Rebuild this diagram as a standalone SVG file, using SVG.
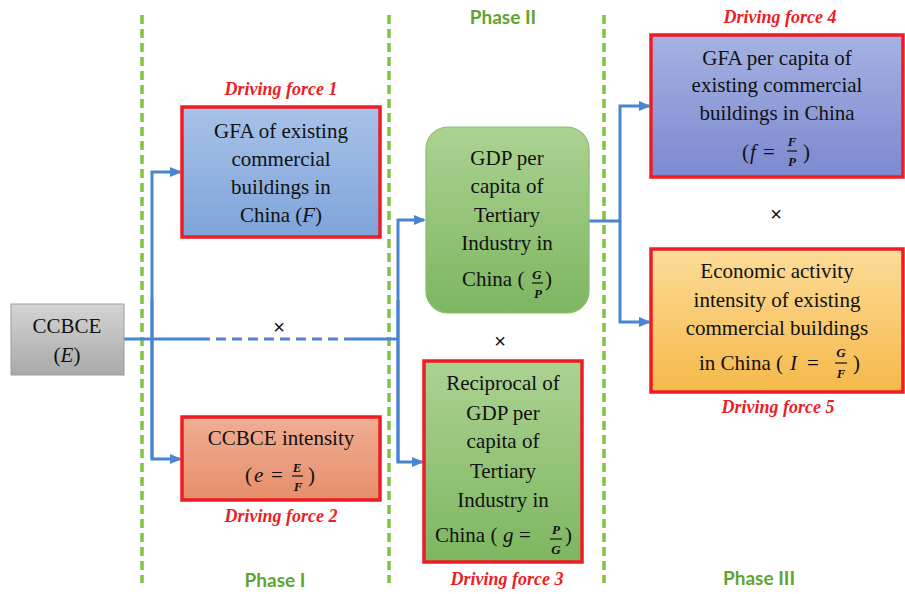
<svg xmlns="http://www.w3.org/2000/svg" width="905" height="594" viewBox="0 0 905 594">
<defs>
<marker id="ah" markerWidth="12" markerHeight="10" refX="10" refY="5" orient="auto" markerUnits="userSpaceOnUse">
<path d="M0,0 L12,5 L0,10 z" fill="#4a86d0"/>
</marker>
<linearGradient id="gGray" x1="0" y1="0" x2="0" y2="1"><stop offset="0" stop-color="#d4d4d4"/><stop offset="1" stop-color="#a9a9a9"/></linearGradient>
<linearGradient id="gBlue" x1="0" y1="0" x2="0" y2="1"><stop offset="0" stop-color="#a8c2e8"/><stop offset="1" stop-color="#7ea4da"/></linearGradient>
<linearGradient id="gSal" x1="0" y1="0" x2="0" y2="1"><stop offset="0" stop-color="#f0ae94"/><stop offset="1" stop-color="#e68e6a"/></linearGradient>
<linearGradient id="gGreen" x1="0" y1="0" x2="0" y2="1"><stop offset="0" stop-color="#acd292"/><stop offset="1" stop-color="#7db660"/></linearGradient>
<linearGradient id="gPur" x1="0" y1="0" x2="0" y2="1"><stop offset="0" stop-color="#a5b2e2"/><stop offset="1" stop-color="#7b89d0"/></linearGradient>
<linearGradient id="gOr" x1="0" y1="0" x2="0" y2="1"><stop offset="0" stop-color="#fcdc98"/><stop offset="1" stop-color="#f5b94a"/></linearGradient>
</defs>
<rect width="905" height="594" fill="#fff"/>

<g id="separators" stroke="#7dc540" stroke-width="3.5" stroke-dasharray="9 5" fill="none">
<line x1="142" y1="15" x2="142" y2="583"/>
<line x1="389" y1="15" x2="389" y2="583"/>
<line x1="604" y1="15" x2="604" y2="583"/>
</g>

<g id="phases" font-weight="bold" fill="#5fa433" text-anchor="middle">
<text font-family="Lato" font-size="19" x="503" y="24">Phase II</text>
<text font-family="Lato" font-size="19" x="275" y="587">Phase I</text>
<text font-family="Lato" font-size="19" x="759" y="585">Phase III</text>
</g>

<g id="connectors">
<g stroke="#4a86d0" stroke-width="3" fill="none">
<line x1="124" y1="339" x2="200" y2="339"/>
<line x1="200" y1="339" x2="350" y2="339" stroke-dasharray="10 6"/>
<line x1="350" y1="339" x2="398" y2="339"/>
<path d="M152,459 L152,172 L180,172" marker-end="url(#ah)"/>
<path d="M152,300 L152,459 L180,459" marker-end="url(#ah)"/>
<path d="M398,462 L398,220 L424,220" marker-end="url(#ah)"/>
<path d="M398,300 L398,462 L422,462" marker-end="url(#ah)"/>
<path d="M589,221 L620,221 L620,106 L649,106" marker-end="url(#ah)"/>
<path d="M620,221 L620,322 L649,322" marker-end="url(#ah)"/>
</g>
<g fill="#111" text-anchor="middle">
<text font-family="Liberation Sans" font-size="20" x="279" y="334">&#215;</text>
<text font-family="Liberation Sans" font-size="20" x="500" y="348">&#215;</text>
<text font-family="Liberation Sans" font-size="20" x="776" y="221">&#215;</text>
</g>
</g>

<g id="ccbce" fill="#111" text-anchor="middle">
<rect x="11" y="304" width="113" height="71" fill="url(#gGray)" stroke="#9c9c9c" stroke-width="1"/>
<text font-family="Times New Roman" font-size="21" x="67" y="333">CCBCE</text>
<text font-family="Times New Roman" font-size="21" x="67" y="362">(<tspan font-style="italic">E</tspan>)</text>
</g>

<g id="df1" fill="#111" text-anchor="middle">
<text font-family="Times New Roman" font-size="18" x="281" y="95" font-style="italic" font-weight="bold" fill="#ee1c24">Driving force 1</text>
<rect x="182" y="107" width="198" height="130" fill="url(#gBlue)" stroke="#ee1c24" stroke-width="3.5"/>
<text font-family="Times New Roman" font-size="21" x="281" y="138">GFA of existing</text>
<text font-family="Times New Roman" font-size="21" x="281" y="166">commercial</text>
<text font-family="Times New Roman" font-size="21" x="281" y="194">buildings  in</text>
<text font-family="Times New Roman" font-size="21" x="281" y="222">China (<tspan font-style="italic">F</tspan>)</text>
</g>

<g id="df2" fill="#111">
<rect x="182" y="417" width="198" height="83" fill="url(#gSal)" stroke="#ee1c24" stroke-width="3.5"/>
<text font-family="Times New Roman" font-size="21" x="281" y="445" text-anchor="middle">CCBCE intensity</text>
<text font-family="Times New Roman" font-size="21" x="245" y="482">(</text>
<text font-family="Times New Roman" font-size="21" x="254" y="482" font-style="italic">e</text>
<text font-family="Times New Roman" font-size="21" x="271" y="482">=</text>
<g font-style="italic" font-weight="bold" text-anchor="middle">
<text font-family="Times New Roman" font-size="13" x="297" y="472">E</text>
<text font-family="Times New Roman" font-size="13" x="298" y="491">F</text>
</g>
<line x1="292" y1="476" x2="303" y2="476" stroke="#111" stroke-width="1.2"/>
<text font-family="Times New Roman" font-size="21" x="308" y="482">)</text>
<text font-family="Times New Roman" font-size="18" x="281" y="522" font-style="italic" font-weight="bold" fill="#ee1c24" text-anchor="middle">Driving force 2</text>
</g>

<g id="gdp" fill="#111">
<rect x="426" y="127" width="163" height="186" rx="22" ry="22" fill="url(#gGreen)" stroke="#86bd6a" stroke-width="1.2"/>
<g text-anchor="middle">
<text font-family="Times New Roman" font-size="21" x="507" y="165">GDP per</text>
<text font-family="Times New Roman" font-size="21" x="507" y="193">capita  of</text>
<text font-family="Times New Roman" font-size="21" x="507" y="222">Tertiary</text>
<text font-family="Times New Roman" font-size="21" x="507" y="250">Industry  in</text>
</g>
<text font-family="Times New Roman" font-size="21" x="462" y="286">China (</text>
<g font-style="italic" font-weight="bold" text-anchor="middle">
<text font-family="Times New Roman" font-size="13" x="537" y="279">G</text>
<text font-family="Times New Roman" font-size="13" x="538" y="298">P</text>
</g>
<line x1="532" y1="283" x2="543" y2="283" stroke="#111" stroke-width="1.2"/>
<text font-family="Times New Roman" font-size="21" x="545" y="286">)</text>
</g>

<g id="df3" fill="#111">
<rect x="424" y="361" width="158" height="201" fill="url(#gGreen)" stroke="#ee1c24" stroke-width="3.5"/>
<g text-anchor="middle">
<text font-family="Times New Roman" font-size="21" x="503" y="390">Reciprocal  of</text>
<text font-family="Times New Roman" font-size="21" x="503" y="420">GDP per</text>
<text font-family="Times New Roman" font-size="21" x="503" y="448">capita  of</text>
<text font-family="Times New Roman" font-size="21" x="503" y="478">Tertiary</text>
<text font-family="Times New Roman" font-size="21" x="503" y="507">Industry  in</text>
</g>
<text font-family="Times New Roman" font-size="21" x="435" y="542">China (</text>
<text font-family="Times New Roman" font-size="21" x="503" y="542" font-style="italic">g</text>
<text font-family="Times New Roman" font-size="21" x="519" y="542">=</text>
<g font-style="italic" font-weight="bold" text-anchor="middle">
<text font-family="Times New Roman" font-size="13" x="556" y="534">P</text>
<text font-family="Times New Roman" font-size="13" x="556" y="554">G</text>
</g>
<line x1="550" y1="539" x2="562" y2="539" stroke="#111" stroke-width="1.2"/>
<text font-family="Times New Roman" font-size="21" x="565" y="542">)</text>
<text font-family="Times New Roman" font-size="18" x="507" y="585" font-style="italic" font-weight="bold" fill="#ee1c24" text-anchor="middle">Driving force 3</text>
</g>

<g id="df4" fill="#111">
<text font-family="Times New Roman" font-size="18" x="780" y="23" font-style="italic" font-weight="bold" fill="#ee1c24" text-anchor="middle">Driving force 4</text>
<rect x="651" y="35" width="252" height="142" fill="url(#gPur)" stroke="#ee1c24" stroke-width="3.5"/>
<g text-anchor="middle">
<text font-family="Times New Roman" font-size="21" x="777" y="65">GFA per capita  of</text>
<text font-family="Times New Roman" font-size="21" x="777" y="92">existing  commercial</text>
<text font-family="Times New Roman" font-size="21" x="777" y="120">buildings  in China</text>
</g>
<text font-family="Times New Roman" font-size="21" x="742" y="159">(</text>
<text font-family="Times New Roman" font-size="21" x="750" y="159" font-style="italic">f</text>
<text font-family="Times New Roman" font-size="21" x="763" y="159">=</text>
<g font-style="italic" font-weight="bold" text-anchor="middle">
<text font-family="Times New Roman" font-size="13" x="792" y="146">F</text>
<text font-family="Times New Roman" font-size="13" x="792" y="166">P</text>
</g>
<line x1="787" y1="151" x2="797" y2="151" stroke="#111" stroke-width="1.2"/>
<text font-family="Times New Roman" font-size="21" x="803" y="159">)</text>
</g>

<g id="df5" fill="#111">
<rect x="651" y="249" width="252" height="143" fill="url(#gOr)" stroke="#ee1c24" stroke-width="3.5"/>
<g text-anchor="middle">
<text font-family="Times New Roman" font-size="21" x="777" y="278">Economic  activity</text>
<text font-family="Times New Roman" font-size="21" x="777" y="307">intensity  of existing</text>
<text font-family="Times New Roman" font-size="21" x="777" y="335">commercial  buildings</text>
</g>
<text font-family="Times New Roman" font-size="21" x="699" y="370">in China (</text>
<text font-family="Times New Roman" font-size="21" x="790" y="370" font-style="italic">I</text>
<text font-family="Times New Roman" font-size="21" x="807" y="370">=</text>
<g font-style="italic" font-weight="bold" text-anchor="middle">
<text font-family="Times New Roman" font-size="13" x="841" y="357">G</text>
<text font-family="Times New Roman" font-size="13" x="841" y="378">F</text>
</g>
<line x1="835" y1="363" x2="847" y2="363" stroke="#111" stroke-width="1.2"/>
<text font-family="Times New Roman" font-size="21" x="853" y="370">)</text>
<text font-family="Times New Roman" font-size="18" x="778" y="413" font-style="italic" font-weight="bold" fill="#ee1c24" text-anchor="middle">Driving force 5</text>
</g>
</svg>
